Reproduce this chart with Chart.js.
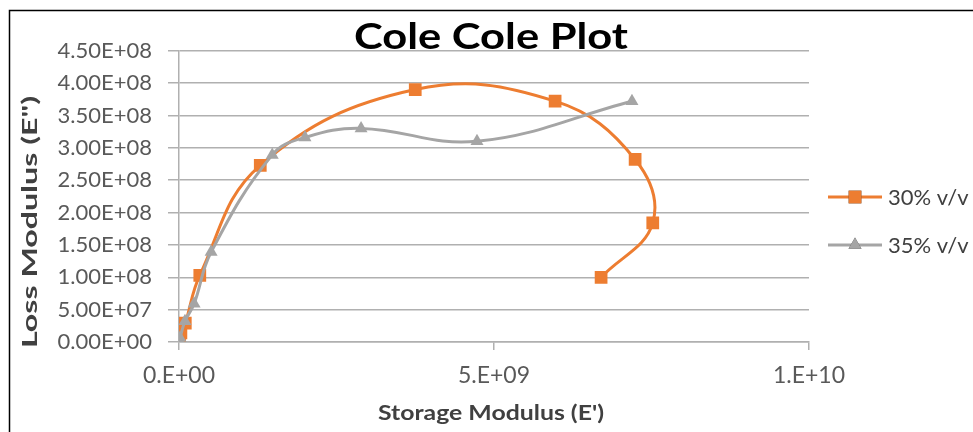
<!DOCTYPE html>
<html>
<head>
<meta charset="utf-8">
<title>Cole Cole Plot</title>
<script src="https://cdn.jsdelivr.net/npm/chart.js@4/dist/chart.umd.min.js"></script>
<style>
  html, body { margin: 0; padding: 0; background: #ffffff; overflow: hidden; }
  #wrap { position: relative; width: 973px; height: 432px; }
  canvas { display: block; }
</style>
</head>
<body>
<div id="wrap"><canvas id="cole" width="973" height="432"></canvas></div>
<script>
// Storage modulus E' (x) and loss modulus E'' (y) for each blend
const storage30 = [1.0e7, 3.0e7, 1.0e8, 3.3e8, 1.29e9, 3.75e9, 5.97e9, 7.24e9, 7.52e9, 6.70e9];
const loss30    = [2.0e6, 1.4e7, 2.9e7, 1.03e8, 2.73e8, 3.90e8, 3.72e8, 2.82e8, 1.84e8, 1.00e8];
const storage35 = [5.0e6, 1.6e7, 9.5e7, 2.4e8, 5.1e8, 1.48e9, 2.0e9, 2.89e9, 4.73e9, 7.19e9];
const loss35    = [1.0e6, 6.0e6, 3.2e7, 5.9e7, 1.39e8, 2.89e8, 3.16e8, 3.30e8, 3.10e8, 3.72e8];

const seriesNames = ['30% v/v', '35% v/v'];
const xTicks = [0, 5e9, 1e10];
const yMax = 4.5e8;
const yStep = 5e7;

const chartTitle = 'Cole Cole Plot';
const xTitle = "Storage Modulus (E')";
const yTitle = 'Loss Modulus (E")';

const ORANGE = '#ED7D31';
const GREY = '#A5A5A5';
const GRID = '#B0B0B0';
const TEXT = '#404040';
const FONT = 'Lato, "Noto Sans", sans-serif';

// Excel-style scientific notation: 4.50E+08, 5.E+09
function sci(v, digits) {
  let exp = 0, m = 0;
  if (v !== 0) {
    exp = Math.floor(Math.log10(Math.abs(v)) + 1e-9);
    m = v / Math.pow(10, exp);
    if (Math.abs(m) >= 9.9999999) { m /= 10; exp += 1; }
  }
  const mant = digits === 0 ? Math.round(m) + '.' : m.toFixed(digits);
  const e = Math.abs(exp);
  return mant + 'E' + (exp < 0 ? '-' : '+') + (e < 10 ? '0' + e : '' + e);
}

function pts(xs, ys) { return xs.map((x, i) => ({ x: x, y: ys[i] })); }

// Draws a string centred on (x, y), stretched along its run to a given length
function fitText(ctx, text, x, y, length, angle) {
  ctx.save();
  ctx.translate(x, y);
  ctx.rotate(angle);
  const w = ctx.measureText(text).width;
  ctx.scale(length / w, 1);
  ctx.textAlign = 'center';
  ctx.fillText(text, 0, 0);
  ctx.restore();
}

// Frame, heading, axis titles and legend drawn on the canvas
const decor = {
  id: 'decor',
  beforeDraw(chart) {
    const ctx = chart.ctx;
    ctx.save();
    ctx.strokeStyle = '#000000';
    ctx.lineWidth = 1.5;
    ctx.beginPath();
    ctx.moveTo(9.5, 440);
    ctx.lineTo(9.5, 10.5);
    ctx.lineTo(980, 10.5);
    ctx.stroke();
    ctx.restore();
  },
  afterDraw(chart) {
    const ctx = chart.ctx;
    ctx.save();
    // heading
    ctx.fillStyle = '#000000';
    ctx.font = 'bold 36px ' + FONT;
    ctx.textBaseline = 'alphabetic';
    fitText(ctx, chartTitle, 491, 49, 274, 0);

    // axis titles
    ctx.fillStyle = TEXT;
    ctx.font = 'bold 20px ' + FONT;
    ctx.textBaseline = 'middle';
    fitText(ctx, xTitle, 491, 414, 226, 0);
    fitText(ctx, yTitle, 31, 222, 252, -Math.PI / 2);

    // legend
    const rows = [197, 245];
    chart.data.datasets.forEach((ds, i) => {
      const y = rows[i];
      ctx.strokeStyle = ds.borderColor;
      ctx.lineWidth = ds.borderWidth;
      ctx.beginPath();
      ctx.moveTo(828, y);
      ctx.lineTo(882, y);
      ctx.stroke();
      Chart.helpers.drawPoint(ctx, {
        pointStyle: ds.pointStyle,
        radius: ds.pointRadius,
        borderWidth: 0
      }, 855, y);
      ctx.fillStyle = ds.pointBackgroundColor;
      ctx.fill();
      ctx.fillStyle = TEXT;
      ctx.font = '22px ' + FONT;
      ctx.textAlign = 'left';
      ctx.textBaseline = 'middle';
      ctx.fillText(ds.label, 888, y + 1);
    });
    ctx.restore();
  }
};

new Chart(document.getElementById('cole'), {
  type: 'scatter',
  data: {
    datasets: [
      {
        label: seriesNames[0],
        data: pts(storage30, loss30),
        showLine: true,
        tension: 0.4,
        borderColor: ORANGE,
        backgroundColor: ORANGE,
        pointBackgroundColor: ORANGE,
        pointBorderColor: ORANGE,
        borderWidth: 3,
        pointStyle: 'rect',
        pointRadius: 9,
        pointBorderWidth: 0,
        order: 2
      },
      {
        label: seriesNames[1],
        data: pts(storage35, loss35),
        showLine: true,
        tension: 0.4,
        borderColor: GREY,
        backgroundColor: GREY,
        pointBackgroundColor: GREY,
        pointBorderColor: GREY,
        borderWidth: 3,
        pointStyle: 'triangle',
        pointRadius: 7.5,
        pointBorderWidth: 0,
        order: 1
      }
    ]
  },
  options: {
    responsive: false,
    animation: false,
    devicePixelRatio: 1,
    layout: { padding: { left: 0, top: 50.7, right: 164, bottom: 0 } },
    plugins: {
      legend: { display: false },
      title: { display: false },
      tooltip: { enabled: false }
    },
    scales: {
      x: {
        type: 'linear',
        min: 0,
        max: 1e10,
        afterFit(s) { s.height = 90; },
        afterBuildTicks(s) { s.ticks = xTicks.map(v => ({ value: v })); },
        ticks: {
          color: '#595959',
          font: { family: FONT, size: 23 },
          padding: 12,
          maxRotation: 0,
          callback: v => sci(v, 0)
        },
        grid: { drawOnChartArea: false, drawTicks: true, tickLength: 8, color: GRID, lineWidth: 1.5 },
        border: { display: true, color: GRID, width: 1.5 }
      },
      y: {
        type: 'linear',
        min: 0,
        max: yMax,
        afterFit(s) { s.width = 179; },
        ticks: {
          stepSize: yStep,
          color: '#595959',
          font: { family: FONT, size: 22 },
          padding: 16,
          callback: v => sci(v, 2)
        },
        grid: { drawOnChartArea: true, drawTicks: true, tickLength: 11, color: GRID, lineWidth: 1.5 },
        border: { display: true, color: GRID, width: 1.5 }
      }
    }
  },
  plugins: [decor]
});
</script>
</body>
</html>
